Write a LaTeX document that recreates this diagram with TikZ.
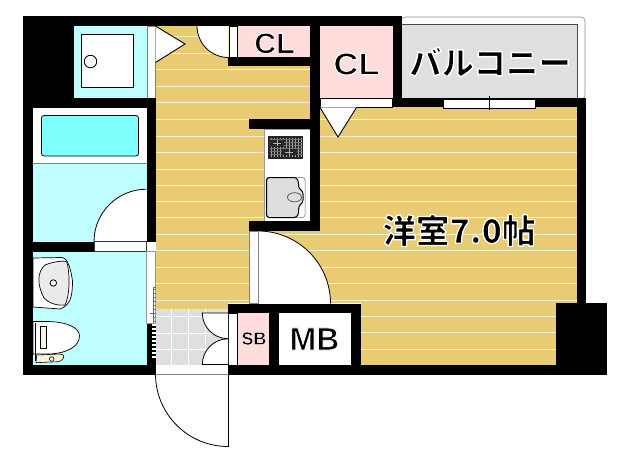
\documentclass[tikz,border=0pt]{standalone}
\usepackage{fontspec}
\setmainfont{Liberation Sans}
\newfontfamily\jpf{Noto Sans CJK JP}
\definecolor{floorc}{HTML}{E8CB72}
\definecolor{stripe}{HTML}{FBF3D8}
\definecolor{wetc}{HTML}{BFFFFF}
\definecolor{tubc}{HTML}{80FFFF}
\definecolor{clc}{HTML}{FFDDDD}
\definecolor{grayc}{HTML}{DFDFDF}
\tikzset{
  x=1pt,y=-1pt,
  wall/.style={fill=black,draw=none},
  lab/.style={inner sep=0pt,anchor=center,text=black}
}
% one copy of each text: heavy face, filled black, outlined white
\newcommand{\haloed}[2]{\special{pdf:code q 2 Tr #1 w 1 j 1 1 1 RG}#2\special{pdf:code Q}}
\newcommand{\lbl}[7]{%
 \node[lab,xscale=#5,transform shape,font={\bfseries\fontsize{#3}{#3}\selectfont}] (#6) at (#1,#2) {\haloed{#7}{#4}};}
\newcommand{\jlbl}[6]{%
 \node[lab,font={\jpf\bfseries\fontsize{#3}{#3}\selectfont}] (#5) at (#1,#2) {\haloed{#6}{#4}};}
\begin{document}
\begin{tikzpicture}
\useasboundingbox (0,0) rectangle (631,468);
\fill[white] (0,0) rectangle (631,468);
% floors
\fill[floorc] (155.5,26) rectangle (310,303);
\fill[floorc] (320,107) rectangle (577,303);
\fill[floorc] (258,231) rectangle (361,303);
\fill[floorc] (361,303) rectangle (556,365);
\fill[floorc] (155.5,303) rectangle (228,309);
\foreach \yy in {37,53.4,70,86.5,103,119.5,136,152.5,169,185.2,201.5,217.8,234.2,250.6,267,283.3,300}{
  \draw[stripe,line width=1pt] (155.5,\yy) -- (310,\yy);
  \draw[stripe,line width=1pt] (320,\yy) -- (577,\yy);
}
\foreach \yy in {316,332.3,349}{\draw[stripe,line width=1pt] (361,\yy) -- (556,\yy);}
\foreach \yy in {234.2,250.6,267,283.3,300}{\draw[stripe,line width=1pt] (258,\yy)--(361,\yy);}
% balcony
\draw[black!45,line width=.6pt,fill=white,rounded corners=4pt] (401,17) -- (585,17) -- (585,99) -- (401,99) -- cycle;
\fill[grayc] (401.5,24.5) rectangle (577.5,98.5);
\draw[black!70,line width=.6pt] (401.5,24.5) -- (577.5,24.5) -- (577.5,98.5);
% wet rooms
\fill[wetc] (74,26) rectangle (147,98);
\fill[white] (33,108) rectangle (146.5,163);
\fill[wetc] (33,163) rectangle (146.5,242);
\fill[wetc] (33,251.5) rectangle (146.5,365);
\draw[black!50,line width=.5pt] (33,163) -- (146.5,163);
% shower
\draw[fill=white,draw=black,line width=1pt] (81,34.5) rectangle (133.5,87.5);
\node[circle,draw=black,fill=white,line width=.8pt,minimum size=12.5pt,inner sep=0pt] (drain) at (90.5,61.5) {};
\fill[white,draw=black!50,line width=.4pt] (147,26) rectangle (155.5,98);
% tub
\draw[fill=tubc,draw=black,line width=.8pt,rounded corners=2.5pt] (41.5,115.5) rectangle (138.5,156);
% closets
\fill[clc] (237,26) rectangle (310,57);
\fill[clc] (320,26) rectangle (392.5,98.5);
\fill[clc] (237.5,313) rectangle (269,365);
\fill[white] (279,313) rectangle (351,365);
\fill[white,draw=black,line width=.5pt] (229,26) rectangle (237,57);
\fill[white,draw=black,line width=.5pt] (320,98.5) rectangle (392.5,107.5);
\fill[white,draw=black,line width=.5pt] (228.5,313) rectangle (237,365);
% kitchen
\fill[white,draw=black!40,line width=.5pt] (264,129) rectangle (310,221);
% tile
\fill[grayc] (155.5,309) rectangle (228,365);
\foreach \xx in {171.7,188,205}{\draw[white,line width=1pt] (\xx,309) -- (\xx,365);}
\foreach \yy in {316.7,333,349}{\draw[white,line width=1pt] (155.5,\yy) -- (228,\yy);}
% door leaves
\fill[white] (155.5,26) -- (185,44) -- (155.5,62.5) -- cycle;
\draw[black,line width=.9pt] (155.5,26) -- (185,44) -- (155.5,62.5);
\fill[white,draw=black,line width=.9pt] (320,107.5) -- (338,137) -- (356.5,107.5);
\fill[white] (197,26) arc[start angle=180,end angle=90,radius=31.5] -- (228.5,26) -- cycle;
\draw[black,line width=.8pt] (197,26) arc[start angle=180,end angle=90,radius=31.5];
\fill[white] (94,241.7) arc[start angle=180,end angle=270,radius=52.5] -- (146.5,241.7) -- cycle;
\draw[black,line width=.8pt] (94,241.7) arc[start angle=180,end angle=270,radius=52.5];
\fill[white,draw=black!80,line width=.5pt] (94,241.7) rectangle (146.5,251.5);
\fill[white] (258,231) arc[start angle=270,end angle=360,radius=72.5] -- (258,303.5) -- cycle;
\draw[black,line width=.8pt] (258,231) arc[start angle=270,end angle=360,radius=72.5];
\fill[white,draw=black!50,line width=.5pt] (249,231) rectangle (258,303.5);
\fill[white] (202.3,313) arc[start angle=180,end angle=90,radius=25.7] -- (228,313) -- cycle;
\draw[black,line width=.8pt] (228,313) -- (202.3,313) arc[start angle=180,end angle=90,radius=25.7];
\fill[white] (202.3,364.5) arc[start angle=180,end angle=270,radius=25.7] -- (228,364.5) -- cycle;
\draw[black,line width=.8pt] (228,364.5) -- (202.3,364.5) arc[start angle=180,end angle=270,radius=25.7];
\draw[black,line width=.8pt] (155.5,365) -- (228,365);
\fill[white] (155.5,365.3) rectangle (228,374);
\draw[black!50,line width=.5pt] (155.5,374) -- (228,374);
\coordinate (hingeA) at (228,374);
\coordinate (leafA) at (228,447);
\draw[black,line width=.8pt] (hingeA) -- (leafA);
\draw[black,line width=.8pt] (155.5,374) arc[start angle=180,end angle=90,radius=72.5];
% walls
\fill[wall] (23,16) rectangle (401.5,26);
\fill[wall] (23,16) rectangle (74,98);
\fill[wall] (23,98) rectangle (155.5,108);
\fill[wall] (23,98) rectangle (33,374.5);
\fill[wall] (146.5,98) rectangle (155.5,242);
\fill[wall] (23,241.7) rectangle (94,251.5);
\fill[wall] (146.5,323) rectangle (155.5,374.5);
\fill[wall] (23,365) rectangle (155.5,374.5);
\fill[wall] (228,365) rectangle (607,374.5);
\fill[wall] (228,57) rectangle (310,66.5);
\fill[wall] (310,16) rectangle (320,231);
\fill[wall] (392.5,16) rectangle (401.5,107.5);
\fill[wall] (392.5,98.5) rectangle (586,107.5);
\fill[wall] (577,98.5) rectangle (586,303);
\fill[wall] (556,303) rectangle (607,374.5);
\fill[wall] (249,119) rectangle (310,129);
\fill[wall] (249,221) rectangle (320,231);
\fill[wall] (228,303.5) rectangle (361,313);
\fill[wall] (269,303.5) rectangle (279,374.5);
\fill[wall] (351,303.5) rectangle (361,374.5);
% strip by toilet
\fill[white,draw=black!40,line width=.4pt] (146.5,251.5) rectangle (155.5,323);
\draw[black!60,line width=.4pt] (155.5,287) -- (153,287) -- (153,323);
\draw[black!60,line width=.4pt] (150,313) -- (153,313);
\foreach \yy in {325,329,...,358}{\draw[white,line width=1.2pt] (152,\yy) -- (155.5,\yy);}
\foreach \yy in {289,293,...,321}{\draw[black!55,line width=.8pt] (152.5,\yy) -- (155.5,\yy);}
% window
\fill[white,draw=black,line width=.5pt] (443,99) rectangle (535,108);
\draw[black,line width=.6pt] (489,96) -- (489,110);
% stove
\fill[black!85] (268.3,136) rectangle (303,159);
\foreach \xx in {271,274,277,280,283,286,289,292,295,298,301}{\draw[black!35,line width=.5pt] (\xx,138) -- (\xx,157);}
\foreach \yy in {139,142,145,148,151,154}{\draw[black!55,line width=.4pt] (270,\yy) -- (302,\yy);}
\fill[black!85] (271,140) rectangle (284,147);
\fill[black!85] (282,149) rectangle (297,155);
\foreach \aa/\bb in {277/143,289/152}{\draw[white!70!black,line width=.5pt] (\aa-4,\bb) -- (\aa+4,\bb) (\aa,\bb-3) -- (\aa,\bb+3);}
% sink
\draw[fill=white,draw=black!60,line width=.5pt,rounded corners=3pt] (266,177.3) rectangle (305,217.7);
\draw[fill=black!13,draw=black,line width=1pt,rounded corners=3pt] (266.5,177.5) -- (297,177.5) .. controls (299,184) and (298,188) .. (303,191) -- (303,203) .. controls (298,206) and (299,212) .. (297,217.5) -- (266.5,217.5) -- cycle;
\draw[fill=black!13,draw=black!70,line width=.7pt] (294.5,197.3) ellipse [x radius=7,y radius=4.6];
% basin
\draw[fill=white,draw=black,line width=.7pt] (33,258) -- (62,257.5) .. controls (68,258) and (71,270) .. (72.5,281) .. controls (72.5,298) and (70,305) .. (60,309) -- (33,307) -- cycle;
\draw[fill=black!8,draw=black,line width=.7pt] (45,265) .. controls (52,262) and (64,260) .. (67,262) .. controls (70,275) and (70,295) .. (65,305) .. controls (55,306) and (48,302) .. (44,298) .. controls (37,285) and (37,272) .. (45,265) -- cycle;
\node[circle,draw=black,fill=white,line width=.8pt,minimum size=6.5pt,inner sep=0pt] (plug) at (53.3,283) {};
% toilet
\draw[fill=white,draw=black,line width=.7pt] (33,321.5) -- (48,321.5) .. controls (68,322) and (79.5,328) .. (79.5,336) .. controls (79.5,346) and (68,353) .. (50,354) -- (33,354) -- cycle;
\draw[draw=black,line width=.7pt] (35,323) -- (35,361);
\draw[fill=floorc!25,draw=black,line width=.7pt] (40.7,326) rectangle (46.7,348);
\draw[fill=floorc!25,draw=black,line width=.6pt] (36.7,355) -- (60,354) .. controls (66,354) and (65,360) .. (58,361.7) -- (36,362.7) -- cycle;
\node[circle,draw=black,fill=white,line width=.6pt,minimum size=4.6pt,inner sep=0pt] (flush) at (51.7,359) {};
% labels
\lbl{274.5}{43.3}{29}{CL}{1.05}{clA}{0.9}
\lbl{356.5}{64}{31}{CL}{1.12}{clB}{1}
\lbl{254}{338.5}{18}{SB}{1}{sb}{0.4}
\lbl{314.5}{339}{32}{MB}{1}{mb}{0.9}
\jlbl{490}{62}{32.5}{バルコニー}{balc}{1.5}
\jlbl{459}{230.5}{33.5}{洋室7.0帖}{room}{1.3}
\end{tikzpicture}
\end{document}
